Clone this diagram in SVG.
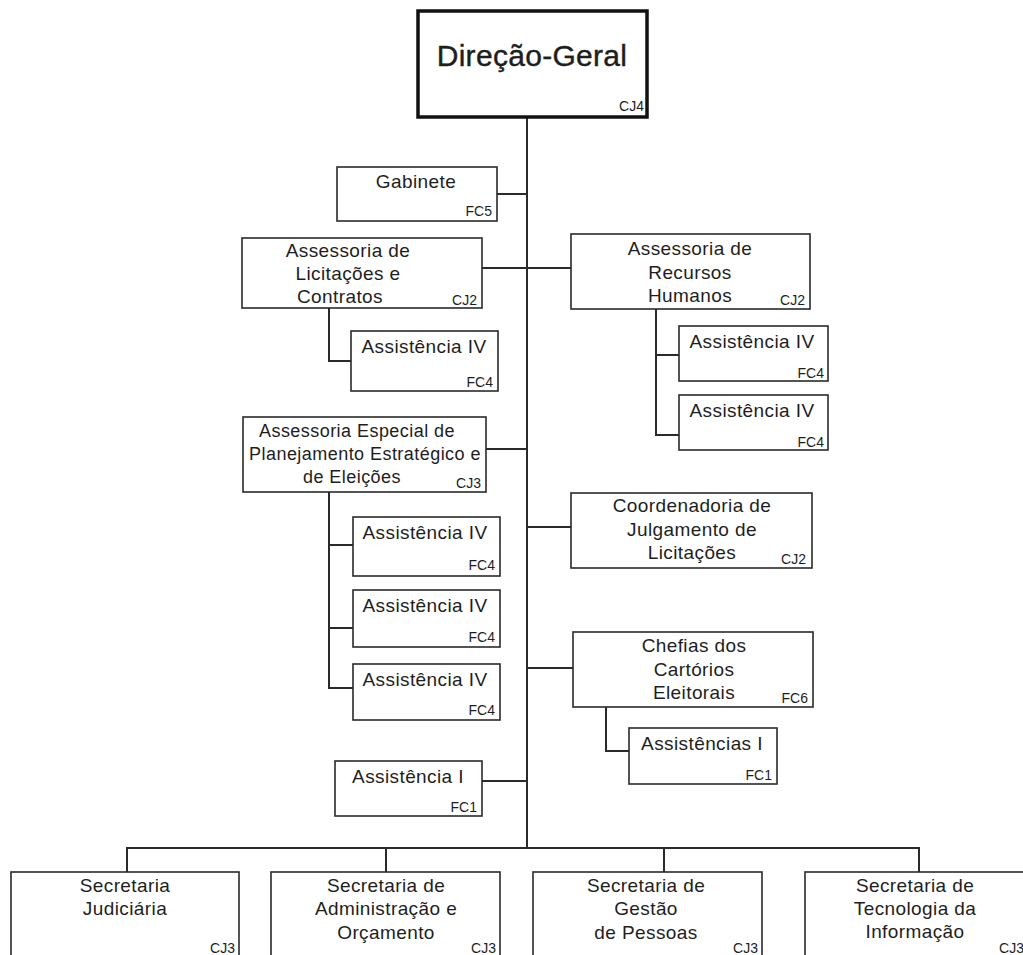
<svg xmlns="http://www.w3.org/2000/svg" width="1023" height="955" viewBox="0 0 1023 955">
<style>
.b{fill:#fff;stroke:#2a2a2a;stroke-width:1.6}
.t{font-family:"Liberation Sans",Arial,sans-serif;font-size:19px;letter-spacing:0.4px;fill:#1e1e1e;text-anchor:middle}
.s{font-size:18px;letter-spacing:0.45px}
.c{font-family:"Liberation Sans",Arial,sans-serif;font-size:14px;fill:#1e1e1e;text-anchor:end}
.l{fill:none;stroke:#2a2a2a;stroke-width:2}
</style>
<rect width="1023" height="955" fill="#fff"/>
<g id="connectors">
<path class="l" d="M527 118V848"/>
<path class="l" d="M497 194H527"/>
<path class="l" d="M482 268H571"/>
<path class="l" d="M329 308V361H351"/>
<path class="l" d="M656 309V435H679M656 355H679"/>
<path class="l" d="M486 449H527"/>
<path class="l" d="M329 492V688H353M329 545H353M329 628H353"/>
<path class="l" d="M527 527H571"/>
<path class="l" d="M527 668H573"/>
<path class="l" d="M606 707V751H629"/>
<path class="l" d="M482 781H527"/>
<path class="l" d="M127 872V848H919V872M386 848V872M664 848V872"/>
</g>
<g id="direcao-geral">
<rect x="418" y="11" width="229" height="106" fill="#fff" stroke="#111" stroke-width="3.5"/>
<text class="t" x="532" y="66" style="font-size:30px;letter-spacing:0.3px;stroke:#1e1e1e;stroke-width:0.4">Direção-Geral</text>
<text class="c" x="644" y="111">CJ4</text>
</g>
<g id="gabinete">
<rect class="b" x="337" y="167" width="160" height="54"/>
<text class="t" x="416" y="188">Gabinete</text>
<text class="c" x="492" y="216">FC5</text>
</g>
<g id="assessoria-licitacoes">
<rect class="b" x="242" y="238" width="240" height="70"/>
<text class="t" x="348" y="257">Assessoria de</text>
<text class="t" x="348" y="280">Licitações e</text>
<text class="t" x="340" y="303">Contratos</text>
<text class="c" x="477" y="305">CJ2</text>
</g>
<g id="assist-iv-lic">
<rect class="b" x="351" y="331" width="147" height="60"/>
<text class="t" x="424" y="353">Assistência IV</text>
<text class="c" x="493" y="387">FC4</text>
</g>
<g id="assessoria-rh">
<rect class="b" x="571" y="234" width="239" height="75"/>
<text class="t" x="690" y="255">Assessoria de</text>
<text class="t" x="690" y="279">Recursos</text>
<text class="t" x="690" y="302">Humanos</text>
<text class="c" x="805" y="305">CJ2</text>
</g>
<g id="assist-iv-rh-1">
<rect class="b" x="679" y="326" width="149" height="55"/>
<text class="t" x="752" y="348">Assistência IV</text>
<text class="c" x="824" y="378">FC4</text>
</g>
<g id="assist-iv-rh-2">
<rect class="b" x="679" y="395" width="149" height="55"/>
<text class="t" x="752" y="417">Assistência IV</text>
<text class="c" x="824" y="447">FC4</text>
</g>
<g id="assessoria-especial">
<rect class="b" x="243" y="417" width="243" height="75"/>
<text class="t s" x="357" y="437">Assessoria Especial de</text>
<text class="t s" x="365" y="460">Planejamento Estratégico e</text>
<text class="t s" x="352" y="483">de Eleições</text>
<text class="c" x="481" y="488">CJ3</text>
</g>
<g id="assist-iv-ae-1">
<rect class="b" x="353" y="517" width="147" height="59"/>
<text class="t" x="425" y="539">Assistência IV</text>
<text class="c" x="495" y="570">FC4</text>
</g>
<g id="assist-iv-ae-2">
<rect class="b" x="353" y="590" width="147" height="57"/>
<text class="t" x="425" y="612">Assistência IV</text>
<text class="c" x="495" y="642">FC4</text>
</g>
<g id="assist-iv-ae-3">
<rect class="b" x="353" y="664" width="147" height="56"/>
<text class="t" x="425" y="686">Assistência IV</text>
<text class="c" x="495" y="715">FC4</text>
</g>
<g id="coordenadoria">
<rect class="b" x="571" y="493" width="241" height="75"/>
<text class="t" x="692" y="512">Coordenadoria de</text>
<text class="t" x="692" y="536">Julgamento de</text>
<text class="t" x="692" y="559">Licitações</text>
<text class="c" x="806" y="564">CJ2</text>
</g>
<g id="chefias">
<rect class="b" x="573" y="632" width="240" height="75"/>
<text class="t" x="694" y="652">Chefias dos</text>
<text class="t" x="694" y="676">Cartórios</text>
<text class="t" x="694" y="699">Eleitorais</text>
<text class="c" x="808" y="703">FC6</text>
</g>
<g id="assistencias-i">
<rect class="b" x="629" y="728" width="148" height="56"/>
<text class="t" x="702" y="750">Assistências I</text>
<text class="c" x="772" y="780">FC1</text>
</g>
<g id="assistencia-i">
<rect class="b" x="335" y="761" width="147" height="55"/>
<text class="t" x="408" y="783">Assistência I</text>
<text class="c" x="477" y="812">FC1</text>
</g>
<g id="sec-judiciaria">
<rect class="b" x="11" y="872" width="228" height="100"/>
<text class="t" x="125" y="892">Secretaria</text>
<text class="t" x="125" y="915">Judiciária</text>
<text class="c" x="235" y="953">CJ3</text>
</g>
<g id="sec-administracao">
<rect class="b" x="271" y="872" width="229" height="100"/>
<text class="t" x="386" y="892">Secretaria de</text>
<text class="t" x="386" y="915">Administração e</text>
<text class="t" x="386" y="939">Orçamento</text>
<text class="c" x="496" y="953">CJ3</text>
</g>
<g id="sec-gestao">
<rect class="b" x="533" y="872" width="229" height="100"/>
<text class="t" x="646" y="892">Secretaria de</text>
<text class="t" x="646" y="915">Gestão</text>
<text class="t" x="646" y="939">de Pessoas</text>
<text class="c" x="758" y="953">CJ3</text>
</g>
<g id="sec-tecnologia">
<rect class="b" x="805" y="872" width="240" height="100"/>
<text class="t" x="915" y="892">Secretaria de</text>
<text class="t" x="915" y="915">Tecnologia da</text>
<text class="t" x="915" y="938">Informação</text>
<text class="c" x="1024" y="953">CJ3</text>
</g>
</svg>
